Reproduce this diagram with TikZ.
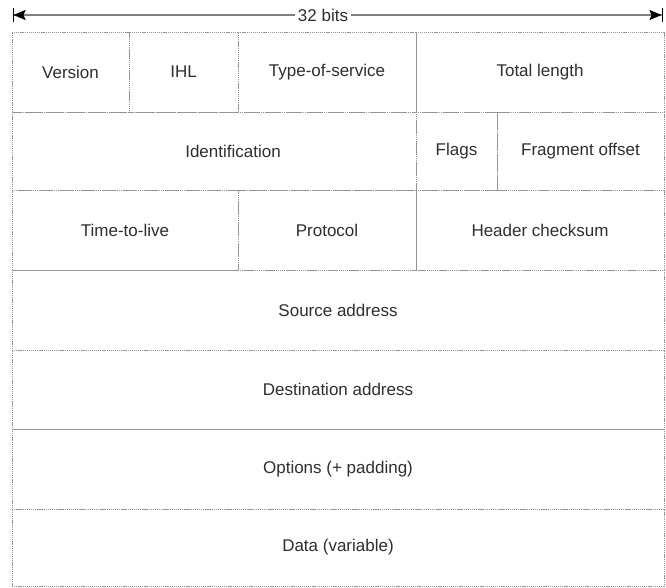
\documentclass[tikz,border=0pt]{standalone}
\usepackage{fontspec}
\setmainfont{Liberation Sans}
\usetikzlibrary{arrows.meta,positioning}
\definecolor{gridgray}{gray}{0.58}
\definecolor{inkgray}{gray}{0.18}

\begin{document}
\begin{tikzpicture}[x=1pt, y=-1pt,
  every node/.style={font=\fontsize{17}{19}\selectfont, text=inkgray},
  field/.style={draw=gridgray, dash pattern=on 1.2pt off 0.9pt, line width=1pt,
    anchor=north west, inner sep=0pt, outer sep=0pt},
  widtharrow/.style={draw=gray, line width=1.8pt,
    {Bar[width=14pt,line width=1pt,black]Stealth[length=12pt,width=10pt,inset=2pt,black]}-{Stealth[length=12pt,width=10pt,inset=2pt,black]Bar[width=14pt,line width=1pt,black]}}]
  \useasboundingbox (0,0) rectangle (666,587);
  % word width
  \coordinate (wl) at (12.5,15);
  \coordinate (wr) at (662.5,15);
  \draw[widtharrow] (wl) -- (wr);
  \node[fill=white, inner xsep=3pt, inner ysep=1pt] (bits) at (323,15) {32 bits};
  % first word
  \foreach \n/\x/\w/\lab in {ver/12/117/Version, ihl/129/109/IHL,
      tos/238/178/Type-of-service, len/416/248/Total length}
    {
      \node[field, minimum width=\w pt, minimum height=80pt] (\n) at (\x,32) {\lab};
    }
  % second word
  \node[field, minimum width=404pt, minimum height=78pt] (ident) at (12,112) {};
  \node at ([xshift=19pt]ident.center) {Identification};
  \foreach \n/\x/\w/\lab in {flags/416/81/Flags, frag/497/167/Fragment offset}
    {
      \node[field, minimum width=\w pt, minimum height=78pt] (\n) at (\x,112) {\lab};
    }
  % third word
  \foreach \n/\x/\w/\lab in {ttl/12/226/Time-to-live, proto/238/178/Protocol,
      cksum/416/248/Header checksum}
    {
      \node[field, minimum width=\w pt, minimum height=80pt] (\n) at (\x,190) {\lab};
    }
  % full-width words
  \foreach \n/\y/\h/\lab in {src/270/80/Source address, dst/350/79/Destination address,
      opt/429/80/Options (+ padding), data/509/77/Data (variable)}
    {
      \node[field, minimum width=652pt, minimum height=\h pt] (\n) at (12,\y) {\lab};
    }
\end{tikzpicture}
\end{document}
